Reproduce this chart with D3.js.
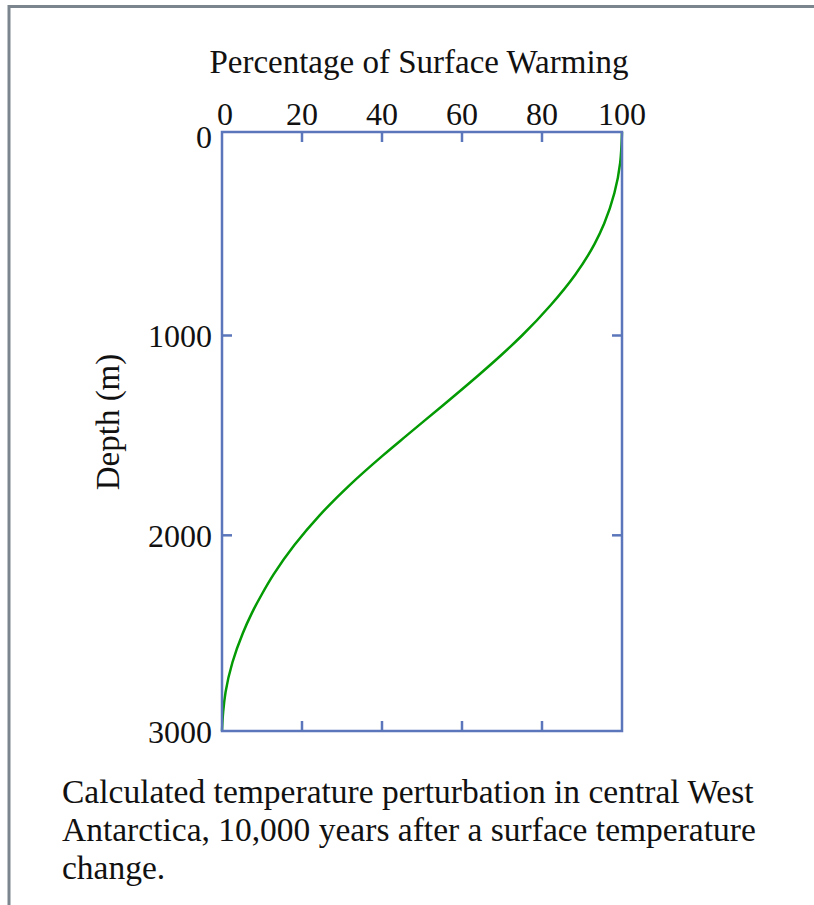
<!DOCTYPE html>
<html>
<head>
<meta charset="utf-8">
<script src="https://cdn.jsdelivr.net/npm/d3@7"></script>
<style>
  body { margin: 0; background: #fff; }
  text { font-family: "Liberation Serif", "Times New Roman", serif; fill: #111; }
</style>
</head>
<body>
<svg id="chart"></svg>
<script>
// values
const depths = [0, 150, 300, 450, 550, 700, 850, 1000, 1100, 1200, 1350, 1500, 1600, 1750, 1900, 2050, 2200, 2300, 2400, 2500, 2650, 2800, 2900, 3000];
const warming = [100, 99.55, 98.1, 95.55, 93.15, 88.35, 82.2, 75.0, 69.7, 64.05, 55.2, 46.2, 40.25, 31.85, 24.4, 18.1, 12.9, 10.0, 7.4, 5.2, 2.6, 0.9, 0.3, 0];
const xTicks = [0, 20, 40, 60, 80, 100];
const yTicks = [0, 1000, 2000, 3000];
const captionLines = [
  "Calculated temperature perturbation in central West",
  "Antarctica, 10,000 years after a surface temperature",
  "change."
];

const W = 814, H = 905;
const plot = { left: 222, right: 622, top: 132, bottom: 731 };
const axisColor = "#5b76bb";

const svg = d3.select("#chart").attr("width", W).attr("height", H);

// frame lines (top + left)
svg.append("line").attr("x1", 9).attr("x2", W).attr("y1", 6.5).attr("y2", 6.5)
  .attr("stroke", "#7a858d").attr("stroke-width", 3);
svg.append("line").attr("x1", 9).attr("x2", 9).attr("y1", 5).attr("y2", H)
  .attr("stroke", "#7a858d").attr("stroke-width", 3);

const x = d3.scaleLinear().domain([0, 100]).range([plot.left, plot.right]);
// the source figure is slightly squeezed towards the bottom
const y = d3.scaleLinear().domain([0, 1000, 2000, 3000]).range([plot.top, 335.5, 535.3, plot.bottom]);

// curve
const pts = depths.map((d, i) => ({ depth: d, pct: warming[i] }));
const line = d3.line()
  .x(d => x(d.pct))
  .y(d => y(d.depth))
  .curve(d3.curveMonotoneY);

svg.append("path")
  .datum(pts)
  .attr("d", line)
  .attr("fill", "none")
  .attr("stroke", "#039a03")
  .attr("stroke-width", 2.5);

// frame of the plot
svg.append("rect")
  .attr("x", plot.left).attr("y", plot.top)
  .attr("width", plot.right - plot.left).attr("height", plot.bottom - plot.top)
  .attr("fill", "none").attr("stroke", axisColor).attr("stroke-width", 2.5);

const tickLen = 10;

// top & bottom ticks (inward)
const inner = xTicks.slice(1, -1);
svg.selectAll(".xt-top").data(inner).enter().append("line")
  .attr("x1", d => x(d)).attr("x2", d => x(d))
  .attr("y1", plot.top).attr("y2", plot.top + tickLen)
  .attr("stroke", axisColor).attr("stroke-width", 2.5);
svg.selectAll(".xt-bot").data(inner).enter().append("line")
  .attr("x1", d => x(d)).attr("x2", d => x(d))
  .attr("y1", plot.bottom).attr("y2", plot.bottom - tickLen)
  .attr("stroke", axisColor).attr("stroke-width", 2.5);

const yInner = yTicks.slice(1, -1);
svg.selectAll(".yt-l").data(yInner).enter().append("line")
  .attr("x1", plot.left).attr("x2", plot.left + tickLen)
  .attr("y1", d => y(d)).attr("y2", d => y(d))
  .attr("stroke", axisColor).attr("stroke-width", 2.5);
svg.selectAll(".yt-r").data(yInner).enter().append("line")
  .attr("x1", plot.right).attr("x2", plot.right - tickLen)
  .attr("y1", d => y(d)).attr("y2", d => y(d))
  .attr("stroke", axisColor).attr("stroke-width", 2.5);

// tick labels
svg.selectAll(".xl").data(xTicks).enter().append("text")
  .attr("x", d => x(d) + (d === 0 ? 3 : 0))
  .attr("y", 125)
  .attr("text-anchor", "middle")
  .style("font-size", "32px")
  .text(d => d);

svg.selectAll(".yl").data(yTicks).enter().append("text")
  .attr("x", 212)
  .attr("y", (d, i) => y(d) + (i === 0 ? 16 : 11.5))
  .attr("text-anchor", "end")
  .style("font-size", "32px")
  .text(d => d);

// axis titles
svg.append("text")
  .attr("x", 419).attr("y", 73)
  .attr("text-anchor", "middle")
  .style("font-size", "33px")
  .text("Percentage of Surface Warming");

svg.append("text")
  .attr("transform", "translate(119,422) rotate(-90)")
  .attr("text-anchor", "middle")
  .style("font-size", "33px")
  .text("Depth (m)");

// caption
svg.selectAll(".cap").data(captionLines).enter().append("text")
  .attr("x", 62)
  .attr("y", (d, i) => 803 + i * 38)
  .style("font-size", "33.5px")
  .text(d => d);
</script>
</body>
</html>
